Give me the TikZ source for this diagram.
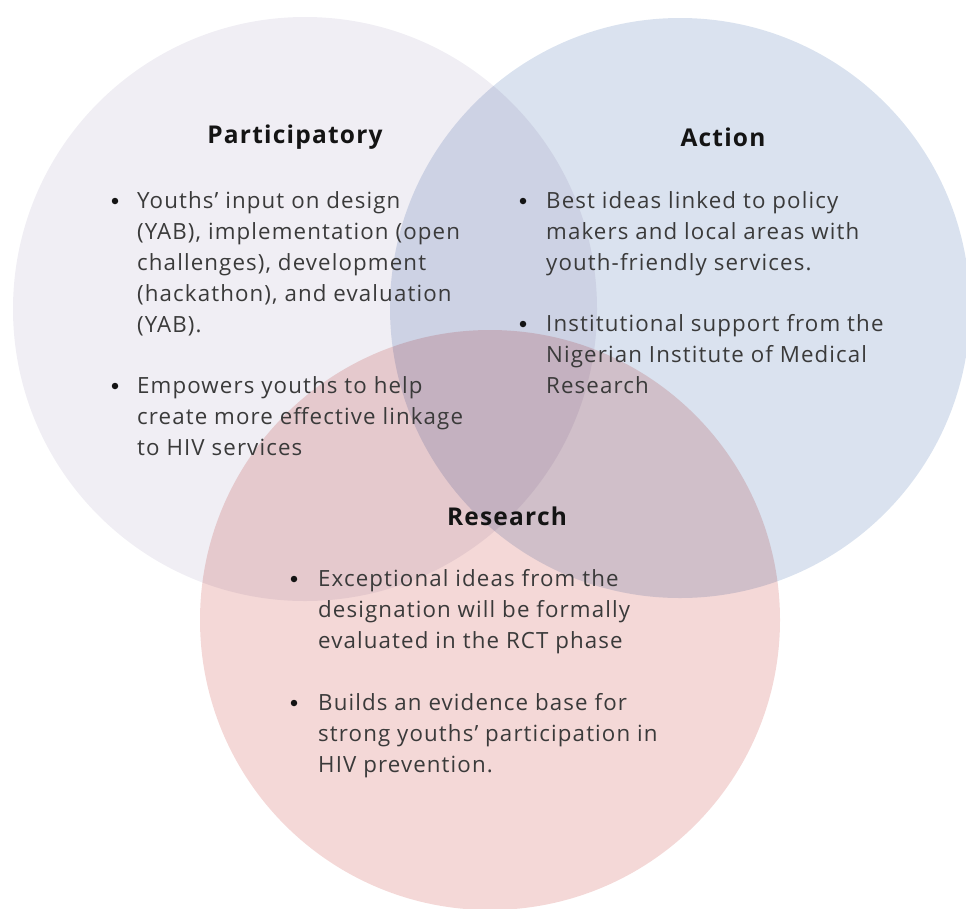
\documentclass[tikz,border=0pt]{standalone}
\usepackage{fontspec}
\setmainfont{Open Sans}[LetterSpace=5]
\definecolor{partfill}{HTML}{F0EEF4}
\definecolor{actfill}{HTML}{DAE2EF}
\definecolor{resfill}{HTML}{F4D8D7}
\definecolor{headink}{HTML}{141414}
\definecolor{bodyink}{HTML}{3A3A3A}
\newcommand{\linesof}[1]{\begin{tabular}[t]{@{}l@{}}#1\end{tabular}}
\begin{document}
\begin{tikzpicture}[x=1pt,y=-1pt,
  venn/.style={blend mode=multiply},
  heading/.style={font=\fontsize{24.5}{28}\selectfont\bfseries, text=headink, inner sep=0pt},
  bodytext/.style={font=\fontsize{22.3}{31}\selectfont, text=bodyink, anchor=base west, inner sep=0pt},
  dot/.style={circle, fill=headink, inner sep=0pt, minimum size=6.5pt}]
\useasboundingbox (0,0) rectangle (966,908);
\begin{scope}
  \clip (0,0) rectangle (966,908);
  \fill[venn, partfill] (305,309) circle (292pt);
  \fill[venn, actfill] (680,308) circle (290pt);
  \fill[venn, resfill] (490,620) circle (290pt);
\end{scope}

% Participatory
\node[heading] (ptitle) at (295,137) {Participatory};
\node[dot] (pb1) at (115,201) {};
\node[bodytext] (pt1) at (137,208) {\linesof{Youths’ input on design\\(YAB), implementation (open\\challenges), development\\(hackathon), and evaluation\\(YAB).}};
\node[dot] (pb2) at (115,386) {};
\node[bodytext] (pt2) at (137,393) {\linesof{Empowers youths to help\\create more effective linkage\\to HIV services}};

% Action
\node[heading] (atitle) at (723,137) {Action};
\node[dot] (ab1) at (523,201) {};
\node[bodytext] (at1) at (546,208) {\linesof{Best ideas linked to policy\\makers and local areas with\\youth-friendly services.}};
\node[dot] (ab2) at (523,324) {};
\node[bodytext] (at2) at (546,331) {\linesof{Institutional support from the\\Nigerian Institute of Medical\\Research}};

% Research
\node[heading] (rtitle) at (507,516) {Research};
\node[dot] (rb1) at (294,579) {};
\node[bodytext] (rt1) at (318,586) {\linesof{Exceptional ideas from the\\designation will be formally\\evaluated in the RCT phase}};
\node[dot] (rb2) at (294,703) {};
\node[bodytext] (rt2) at (318,710) {\linesof{Builds an evidence base for\\strong youths’ participation in\\HIV prevention.}};
\end{tikzpicture}
\end{document}
